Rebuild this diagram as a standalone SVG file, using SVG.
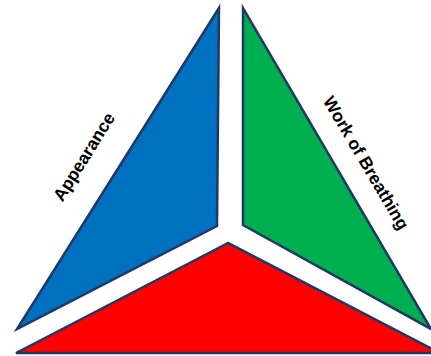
<svg xmlns="http://www.w3.org/2000/svg" width="431" height="356" viewBox="0 0 431 356">
<style>
.tri{stroke:#1F3864;stroke-width:2.5;stroke-linejoin:miter}
.lbl{font-family:"Liberation Sans",Arial,sans-serif;font-weight:bold;font-size:17.5px;fill:#000;text-anchor:middle}
</style>
<rect width="431" height="356" fill="#fff"/>
<g id="appearance">
<polygon class="tri" points="219,8 217,226 17,329" fill="#0070C0"/>
<text class="lbl" transform="translate(89,160) rotate(-58)">Appearance</text>
</g>
<g id="work-of-breathing">
<polygon class="tri" points="243,8 243,225 431,329" fill="#00B050"/>
<text class="lbl" transform="translate(361,166) rotate(59.5)">Work of Breathing</text>
</g>
<g id="circulation">
<polygon class="tri" points="228,243 16,353 440,353" fill="#FF0000"/>
</g>
<g id="connectors"></g>
</svg>
